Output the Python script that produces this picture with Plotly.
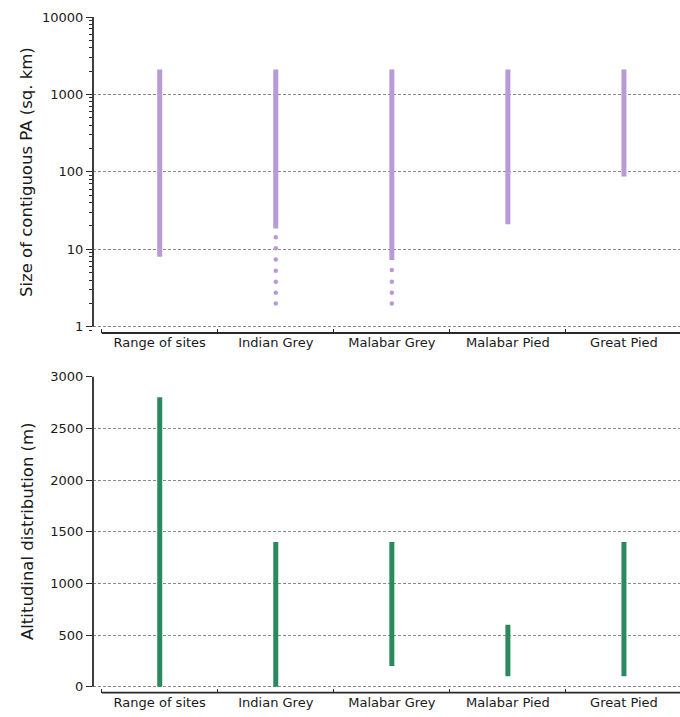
import plotly.graph_objects as go
import math

categories = ["Range of sites", "Indian Grey", "Malabar Grey", "Malabar Pied", "Great Pied"]

# Size of contiguous PA (sq. km) - solid range
pa_min = [8, 18.5, 7.3, 21, 87]
pa_max = [2100, 2100, 2100, 2100, 2100]
# dotted extensions below the solid range
ig_dots = [14.3, 10.3, 7.4, 5.3, 3.8, 2.75, 2.0]
mg_dots = [5.4, 3.8, 2.75, 2.0]

# Altitudinal distribution (m)
alt_min = [0, 0, 200, 100, 100]
alt_max = [2800, 1400, 1400, 600, 1400]

top_ticks = [1, 10, 100, 1000, 10000]
bot_ticks = [0, 500, 1000, 1500, 2000, 2500, 3000]

PURPLE = "#b89ad8"
GREEN = "#2a8a5e"
SPINE = "#2a2a2a"
GRID = "#8a8a8a"
TXT = "#1a1a1a"
FONT = "DejaVu Sans"

W, H = 680, 717


def seg(lo, hi):
    xs, ys = [], []
    for c, a, b in zip(categories, lo, hi):
        xs += [c, c, None]
        ys += [a, b, None]
    return xs, ys


fig = go.Figure()

x1, y1 = seg(pa_min, pa_max)
fig.add_trace(go.Scatter(x=x1, y=y1, mode="lines", line=dict(color=PURPLE, width=5),
                         xaxis="x", yaxis="y", showlegend=False, hoverinfo="skip"))
fig.add_trace(go.Scatter(x=[categories[1]] * len(ig_dots) + [categories[2]] * len(mg_dots),
                         y=ig_dots + mg_dots, mode="markers",
                         marker=dict(color=PURPLE, size=4.5), xaxis="x", yaxis="y",
                         showlegend=False, hoverinfo="skip"))

x2, y2 = seg(alt_min, alt_max)
fig.add_trace(go.Scatter(x=x2, y=y2, mode="lines", line=dict(color=GREEN, width=5),
                         xaxis="x2", yaxis="y2", showlegend=False, hoverinfo="skip"))

xr = [-0.575, 4.483]
top_yr = [-0.081, 4.0]
bot_yr = [-58, 3000]
top_dom = [1 - 333 / H, 1 - 17 / H]
bot_dom = [1 - 692.7 / H, 1 - 376.7 / H]

xcommon = dict(type="category", categoryorder="array", categoryarray=categories,
               range=xr, showline=False, showgrid=False, zeroline=False,
               ticks="inside", tickson="boundaries", ticklen=4, tickwidth=1,
               tickcolor=SPINE, tickfont=dict(family=FONT, size=13, color=TXT),
               automargin=False, fixedrange=True)

fig.update_layout(
    width=W, height=H,
    margin=dict(l=93, r=0, t=0, b=0),
    paper_bgcolor="white", plot_bgcolor="white",
    xaxis=dict(xcommon, domain=[0, 1], anchor="y"),
    xaxis2=dict(xcommon, domain=[0, 1], anchor="y2"),
    yaxis=dict(type="log", domain=top_dom, range=top_yr, anchor="x",
               tickmode="linear", tick0=0, dtick=1, tickformat="d",
               showline=False, showgrid=True, gridcolor=GRID, gridwidth=1, griddash="3px,2px",
               zeroline=False, ticks="outside", ticklen=6, tickcolor=SPINE,
               minor=dict(ticks="outside", ticklen=3, tickcolor=SPINE, dtick="D1",
                          showgrid=False),
               tickfont=dict(family=FONT, size=13, color=TXT), automargin=False),
    yaxis2=dict(domain=bot_dom, range=bot_yr, anchor="x2",
                tickvals=bot_ticks, showline=False, showgrid=True, gridcolor=GRID,
                gridwidth=1, griddash="3px,2px", zeroline=False,
                ticks="outside", ticklen=6, tickcolor=SPINE,
                tickfont=dict(family=FONT, size=13, color=TXT), automargin=False),
    font=dict(family=FONT, color=TXT),
)


# trimmed, offset spines (paper coords so they are not clipped)
def frac(v, r):
    return (v - r[0]) / (r[1] - r[0])


def py(dom, f):
    return dom[0] + f * (dom[1] - dom[0])


xs0 = frac(-0.5, xr)
for dom, yr, lo, hi in [(top_dom, top_yr, math.log10(top_ticks[0]), math.log10(top_ticks[-1])),
                        (bot_dom, bot_yr, bot_ticks[0], bot_ticks[-1])]:
    fig.add_shape(type="line", xref="paper", yref="paper", x0=0, x1=0,
                  y0=py(dom, frac(lo, yr)), y1=py(dom, frac(hi, yr)),
                  line=dict(color=SPINE, width=1.8))
    fig.add_shape(type="line", xref="paper", yref="paper", x0=xs0, x1=1,
                  y0=dom[0], y1=dom[0], line=dict(color=SPINE, width=1.8))

plot_w = W - 93
fig.add_annotation(text="Size of contiguous PA (sq. km)", textangle=-90,
                   xref="paper", yref="paper", x=(27 - 93) / plot_w, y=1 - 172 / H,
                   xanchor="center", yanchor="middle", showarrow=False,
                   font=dict(family=FONT, size=16.5, color=TXT))
fig.add_annotation(text="Altitudinal distribution (m)", textangle=-90,
                   xref="paper", yref="paper", x=(27 - 93) / plot_w, y=1 - 531 / H,
                   xanchor="center", yanchor="middle", showarrow=False,
                   font=dict(family=FONT, size=16.5, color=TXT))

fig.write_html("out.html")
